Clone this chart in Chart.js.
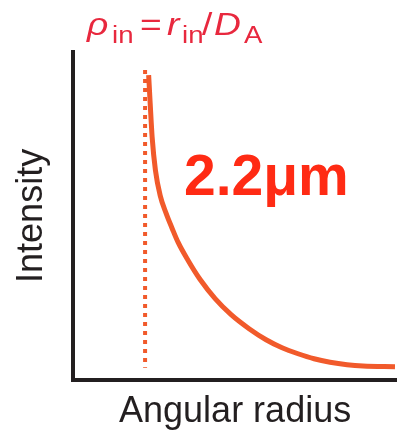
<!DOCTYPE html>
<html>
<head>
<meta charset="utf-8">
<script src="https://cdn.jsdelivr.net/npm/chart.js@4/dist/chart.umd.min.js"></script>
<style>
  html, body { margin: 0; padding: 0; background: #ffffff; }
  #wrap { width: 397px; height: 437px; position: relative; }
</style>
</head>
<body>
<div id="wrap"><canvas id="chart"></canvas></div>
<script>
// Intensity profile versus angular radius (arbitrary units, 0-100)
const radius    = [23.30, 23.77, 24.38, 25.40, 26.85, 28.70, 30.56, 32.41, 35.49, 39.20, 43.83, 48.77, 54.32, 59.57, 64.51, 69.44, 74.38, 79.32, 84.57, 89.51, 99.38];
const intensity = [92.97, 84.40, 74.01, 63.91, 56.27, 50.76, 46.18, 41.90, 36.39, 30.58, 24.77, 19.88, 15.60, 12.23, 9.79, 7.95, 6.42, 5.35, 4.59, 4.19, 3.98];

// Inner radius marker (dotted vertical line)
const innerRadius = [22.2, 22.2];
const innerSpan   = [94.5, 3.7];

const sizeLabel = '2.2μm';
const xTitle = 'Angular radius';
const yTitle = 'Intensity';

const FONT = '"Liberation Sans", Arial, Helvetica, sans-serif';
const INK = '#231f20';
const CURVE = '#f15a2b';

const profile = radius.map((r, i) => ({ x: r, y: intensity[i] }));
const marker = innerRadius.map((r, i) => ({ x: r, y: innerSpan[i] }));

// Formula and size label drawn on the canvas
const annotations = {
  id: 'annotations',
  afterDraw(chart) {
    const ctx = chart.ctx;
    ctx.save();
    ctx.textBaseline = 'alphabetic';
    ctx.textAlign = 'left';

    // rho_in = r_in / D_A, set slightly wide
    ctx.fillStyle = '#e8283e';
    const main = 'italic 31px ' + FONT;
    const mainUp = '31px ' + FONT;
    const sub = '23px ' + FONT;
    const parts = [
      { t: 'ρ',  f: main,   x: 87,  y: 35 },
      { t: 'in', f: sub,    x: 112, y: 43 },
      { t: '=',  f: mainUp, x: 140, y: 35 },
      { t: 'r',  f: main,   x: 167, y: 35 },
      { t: 'in', f: sub,    x: 182, y: 43 },
      { t: '/',  f: mainUp, x: 202, y: 35 },
      { t: 'D',  f: main,   x: 214, y: 35 },
      { t: 'A',  f: sub,    x: 244, y: 43 }
    ];
    parts.forEach(p => {
      ctx.save();
      ctx.font = p.f;
      ctx.translate(p.x, p.y);
      ctx.scale(1.2, 1);
      ctx.fillText(p.t, 0, 0);
      ctx.restore();
    });

    // size label
    ctx.fillStyle = '#ff2b14';
    ctx.font = 'bold 57px ' + FONT;
    ctx.fillText(sizeLabel, 184, 195);
    ctx.restore();
  }
};

new Chart(document.getElementById('chart'), {
  type: 'scatter',
  data: {
    datasets: [
      {
        data: marker,
        showLine: true,
        borderColor: CURVE,
        borderWidth: 4,
        borderDash: [4, 5],
        borderCapStyle: 'butt',
        pointRadius: 0,
        fill: false
      },
      {
        data: profile,
        showLine: true,
        borderColor: CURVE,
        borderWidth: 5,
        cubicInterpolationMode: 'monotone',
        pointRadius: 0,
        fill: false
      }
    ]
  },
  plugins: [annotations],
  options: {
    responsive: true,
    maintainAspectRatio: false,
    animation: false,
    events: [],
    layout: { padding: { top: 52, right: 0, bottom: 0, left: 0 } },
    plugins: {
      legend: { display: false },
      tooltip: { enabled: false },
      title: { display: false }
    },
    scales: {
      x: {
        type: 'linear',
        min: 0,
        max: 100,
        ticks: { display: false },
        grid: { display: false, drawTicks: false },
        border: { display: true, color: INK, width: 4 },
        title: {
          display: true,
          text: xTitle,
          color: INK,
          font: { family: FONT, size: 36, lineHeight: 1.2 },
          padding: { top: 11, bottom: 3 }
        }
      },
      y: {
        type: 'linear',
        min: 0,
        max: 100,
        ticks: { display: false },
        grid: { display: false, drawTicks: false },
        border: { display: true, color: INK, width: 4 },
        title: {
          display: true,
          text: yTitle,
          color: INK,
          font: { family: FONT, size: 36, lineHeight: 1.2 },
          padding: { top: 10, bottom: 20 }
        }
      }
    }
  }
});
</script>
</body>
</html>
